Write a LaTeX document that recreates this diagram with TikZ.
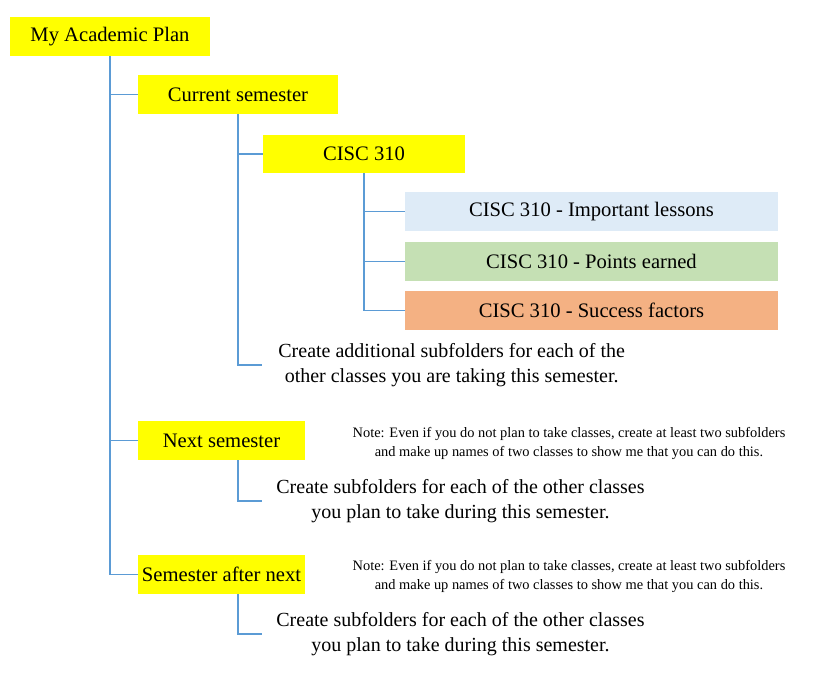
\documentclass[tikz,border=0pt]{standalone}
\usepackage{fontspec}
\setmainfont{Liberation Serif}
\usetikzlibrary{positioning}

\definecolor{planyellow}{HTML}{FFFF00}
\definecolor{lessonblue}{HTML}{DEEBF7}
\definecolor{pointgreen}{HTML}{C5E0B4}
\definecolor{factororange}{HTML}{F4B183}
\definecolor{linkblue}{HTML}{5B9BD5}

\tikzset{
  folder/.style={fill=planyellow, minimum height=19.5pt, inner sep=0pt, font=\fontsize{10.3}{12}\selectfont},
  subfolder/.style={folder, minimum width=186.5pt},
  link/.style={draw=linkblue, line width=0.7pt},
  hint/.style={anchor=west, align=center, inner xsep=8pt, font=\fontsize{10}{12.2}\selectfont},
  note/.style={align=center, inner sep=0pt, font=\fontsize{7.2}{9.5}\selectfont}
}

\begin{document}
\begin{tikzpicture}[x=0.5pt, y=-0.5pt]
        % khung trang: 816 x 685
        \useasboundingbox (0,0) rectangle (816,685);

        % Thu muc chinh
        \node[folder, minimum width=100pt] (root) at (110,36.5) {My Academic Plan};

        % Hoc ky hien tai
        \node[folder, minimum width=100pt] (cur) at (238,94.5) {Current semester};
        \node[folder, minimum width=101pt, minimum height=19pt] (cisc) at (364,154) {CISC 310};
        \node[subfolder, fill=lessonblue] (lessons) at (591.5,211.5) {CISC 310 - Important lessons};
        \node[subfolder, fill=pointgreen] (points) at (591.5,261.5) {CISC 310 - Points earned};
        \node[subfolder, fill=factororange] (factors) at (591.5,310.5) {CISC 310 - Success factors};
        \node[hint] (curhint) at (262,365) {Create additional subfolders for each of the\\other classes you are taking this semester.};

        % Hoc ky sau
        \node[folder, minimum width=83.5pt] (next) at (221.5,440.5) {Next semester};
        \node[note] (nextnote) at (569,443) {Note: Even if you do not plan to take classes, create at least two subfolders\\and make up names of two classes to show me that you can do this.};
        \node[hint, inner xsep=7pt] (nexthint) at (262,501) {Create subfolders for each of the other classes\\you plan to take during this semester.};

        % Hoc ky sau nua
        \node[folder, minimum width=83.5pt] (after) at (221.5,574.5) {Semester after next};
        \node[note] (afternote) at (569,576) {Note: Even if you do not plan to take classes, create at least two subfolders\\and make up names of two classes to show me that you can do this.};
        \node[hint, inner xsep=7pt] (afterhint) at (262,634) {Create subfolders for each of the other classes\\you plan to take during this semester.};

        % Duong noi
        \draw[link] (root.south) |- (cur.west);
        \draw[link] (root.south) |- (next.west);
        \draw[link] (root.south) |- (after.west);
        \draw[link] (cur.south) |- (cisc.west);
        \draw[link] (cur.south) |- (curhint.west);
        \draw[link] (cisc.south) |- (lessons.west);
        \draw[link] (cisc.south) |- (points.west);
        \draw[link] (cisc.south) |- (factors.west);
        \draw[link] (next.south -| cur.south) |- (nexthint.west);
        \draw[link] (after.south -| cur.south) |- (afterhint.west);
\end{tikzpicture}
\end{document}
